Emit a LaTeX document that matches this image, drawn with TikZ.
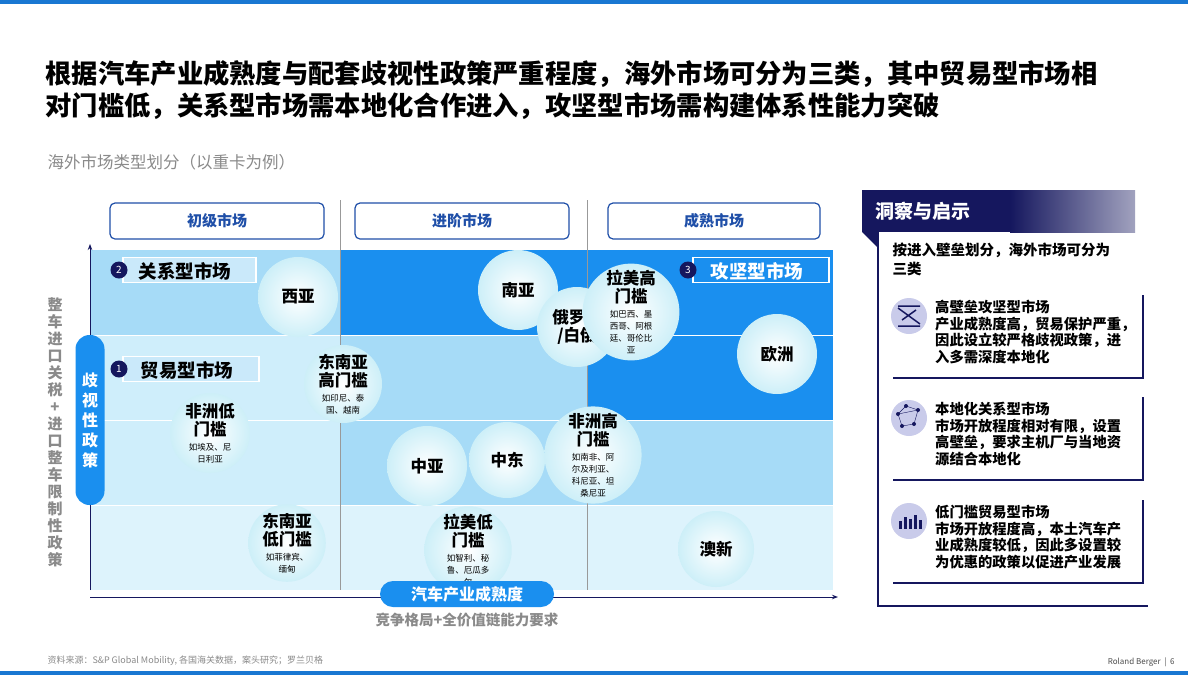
\documentclass[tikz,border=0pt]{standalone}
\usepackage{fontspec}
\setmainfont{Noto Sans CJK SC}
\usetikzlibrary{shapes.geometric,arrows.meta}
\newcommand\smallf{\mdseries\fontsize{8.5}{9}\selectfont}
\newcommand\nl{\\[-6pt]}
\definecolor{cbright}{HTML}{1A8FEF}
\definecolor{clight}{HTML}{A6DBF7}
\definecolor{cpale}{HTML}{CFEEFB}
\definecolor{cvpale}{HTML}{DDF3FC}
\definecolor{navy}{HTML}{15175E}
\definecolor{hdrblue}{HTML}{1F4FA8}
\definecolor{gtxt}{HTML}{8A8A8A}
\definecolor{lav}{HTML}{C9CBEA}
\definecolor{bubedge}{HTML}{CDEFF8}
\tikzset{
 bub/.style={circle,minimum size=#1,inner sep=0pt,draw=none,inner color=white,outer color=bubedge,align=center,font=\bfseries\fontsize{16.5}{18}\selectfont},
 hdr/.style={draw=hdrblue,line width=1.2pt,rounded corners=5pt,fill=white,text=hdrblue,font=\bfseries\fontsize{15}{16}\selectfont,minimum height=36pt},
 badge/.style={circle,fill=navy,text=white,minimum size=17pt,inner sep=0pt,font=\fontsize{10}{10}\selectfont},
 tbox/.style={draw=white,line width=1.5pt,fill=white!40!clight,anchor=west,font=\bfseries\fontsize{18.5}{19}\selectfont,minimum height=25pt,text depth=0pt,align=left,text width=#1,inner sep=0pt},
}
\begin{document}
\begin{tikzpicture}[x=1pt,y=-1pt]
\useasboundingbox (0,0) rectangle (1188,675);
\fill[white] (0,0) rectangle (1188,675);
\fill[cbright!80!navy] (0,0) rectangle (1188,4);
\fill[cbright!80!navy] (0,671) rectangle (1188,675);
\node[anchor=west,font=\bfseries\fontsize{26.3}{32}\selectfont,align=left] (title) at (42,90) {根据汽车产业成熟度与配套歧视性政策严重程度，海外市场可分为三类，其中贸易型市场相\\对门槛低，关系型市场需本地化合作进入，攻坚型市场需构建体系性能力突破};
\node[anchor=west,text=gtxt,font=\fontsize{16.5}{17}\selectfont] (sub) at (44,162) {海外市场类型划分（以重卡为例）};
% grid
\fill[clight] (90,250) rectangle (340,335);
\fill[cbright] (340,250) rectangle (833,335);
\fill[cpale] (90,335) rectangle (340,505);
\fill[clight] (340,335) rectangle (587,420);
\fill[cbright] (587,335) rectangle (833,420);
\fill[clight] (340,420) rectangle (833,505);
\fill[cvpale] (90,505) rectangle (833,590);
\draw[white,line width=0.8pt] (90,335) -- (833,335) (90,420) -- (833,420) (90,505) -- (833,505);
\draw[gray!80,line width=0.6pt] (340,200) -- (340,590) (587,200) -- (587,590);
% headers
\node[hdr,minimum width=214pt] (h1) at (217,221) {初级市场};
\node[hdr,minimum width=214pt] (h2) at (462,221) {进阶市场};
\node[hdr,minimum width=212pt] (h3) at (714,221) {成熟市场};
% axes
\coordinate (o) at (90,597);
\coordinate (ytop) at (90,244);
\coordinate (xend) at (838,597);
\draw[navy,line width=1pt,-{Stealth[length=6pt]}] (90,590) -- (ytop);
\draw[navy,line width=1pt,-{Stealth[length=6pt]}] (o) -- (xend);
\node[fill=cbright,rounded corners=14pt,minimum width=29pt,minimum height=170pt,text=white,font=\bfseries\fontsize{16}{20}\selectfont,align=center,inner sep=0pt] (ylab) at (90,420) {歧\\视\\性\\政\\策};
\node[text=gtxt,font=\bfseries\itshape\fontsize{15}{17}\selectfont,align=center] (yl2) at (55,432) {整\\车\\进\\口\\关\\税\\+\\进\\口\\整\\车\\限\\制\\性\\政\\策};
% type labels
\node[tbox=133pt] (t2) at (122,270) {\hspace{16pt}关系型市场};
\node[badge] (b2) at (119,270) {2};
\node[tbox=136pt] (t1) at (122,369) {\hspace{18pt}贸易型市场};
\node[badge] (b1) at (119,369) {1};
\node[tbox=136pt,fill=cbright,text=white] (t3) at (692,270) {\hspace{18pt}攻坚型市场};
\node[badge] (b3) at (688,270) {3};
% bubbles
\node[bub=80pt] (xiya) at (298,297) {西亚};
\node[bub=80pt] (nanya) at (518,290) {南亚};
\node[bub=80pt] (eluo) at (577,327) {俄罗斯\\/白俄};
\node[bub=76pt] (lmg) at (631,312) {拉美高\\门槛\\[-3pt]\smallf 如巴西、墨\nl\smallf 西哥、阿根\nl\smallf 廷、哥伦比\nl\smallf 亚};
\node[bub=80pt] (oz) at (777,354) {欧洲};
\node[bub=78pt] (dng) at (343,384) {东南亚\\高门槛\\[-3pt]\smallf 如印尼、泰\nl\smallf 国、越南};
\node[bub=80pt] (fzd) at (210,433) {非洲低\\门槛\\[-3pt]\smallf 如埃及、尼\nl\smallf 日利亚};
\node[bub=80pt] (zy) at (427,466) {中亚};
\node[bub=76pt] (zd) at (507,460) {中东};
\node[bub=76pt] (fzg) at (593,455) {非洲高\\门槛\\[-3pt]\smallf 如南非、阿\nl\smallf 尔及利亚、\nl\smallf 科尼亚、坦\nl\smallf 桑尼亚};
\node[bub=76pt] (dnd) at (287,543) {东南亚\\低门槛\\[-3pt]\smallf 如菲律宾、\nl\smallf 缅甸};
\node[bub=80pt] (lmd) at (468,550) {拉美低\\门槛\\[-3pt]\smallf 如智利、秘\nl\smallf 鲁、厄瓜多\nl\smallf 尔};
\node[bub=76pt] (ax) at (716,549) {澳新};
% x label
\node[fill=cbright,rounded corners=13pt,minimum width=174pt,minimum height=26pt,text=white,font=\bfseries\fontsize{16}{17}\selectfont] (xlab) at (467,594) {汽车产业成熟度};
\node[text=gtxt,font=\bfseries\itshape\fontsize{14.5}{15}\selectfont] (xl2) at (467,620) {竞争格局+全价值链能力要求};
% right panel
\draw[navy,line width=1.2pt] (878,232) -- (878,606) -- (1148,606);
\fill[navy] (862,190) rectangle (1135,232);
\fill[navy] (862,232) -- (878,232) -- (878,248) -- cycle;
\shade[left color=navy,right color=navy!40!white] (1010,190) rectangle (1135,232);
\node[anchor=west,text=white,font=\bfseries\fontsize{19}{20}\selectfont] (ph) at (872,211) {洞察与启示};
\node[anchor=north west,font=\bfseries\fontsize{14.5}{19}\selectfont,align=left] (pi) at (889,239) {按进入壁垒划分，海外市场可分为\\三类};
\foreach \y/\t/\b [count=\i] in {300/高壁垒攻坚型市场/{产业成熟度高，贸易保护严重，\\因此设立较严格歧视政策，进\\入多需深度本地化},402/本地化关系型市场/{市场开放程度相对有限，设置\\高壁垒，要求主机厂与当地资\\源结合本地化},505/低门槛贸易型市场/{市场开放程度高，本土汽车产\\业成熟度较低，因此多设置较\\为优惠的政策以促进产业发展}}{
 \node[circle,fill=lav,minimum size=36pt] (ic\i) at (909,\y+16) {};
 \node[anchor=north west,align=left,inner sep=0pt,font=\bfseries\fontsize{14.3}{16.5}\selectfont] (c\i) at (935,\y+0) {\t\\\b};
 \draw[navy,line width=1.5pt] (1143,\y-5) -- (1143,\y+78) -- (893,\y+78);
}
\draw[navy,line width=1.5pt] (898,308) -- (920,324) (902,320) -- (916,310) (898,306) -- (920,306) (898,326) -- (920,326);
\foreach \p in {(898,414),(906,406),(918,410),(914,424),(902,426)} \fill[navy] \p circle (2pt);
\draw[navy] (898,414) -- (906,406) -- (918,410) -- (914,424) -- (902,426) -- cycle (898,414) -- (918,410);
\foreach \xx/\hh in {899/8,904/12,909/10,914/14,919/9} \fill[navy] (\xx,529) rectangle (\xx+3,529-\hh);
% footer
\node[anchor=west,text=gtxt,font=\fontsize{9}{10}\selectfont] (src) at (44,661) {资料来源：S\&P Global Mobility, 各国海关数据，案头研究；罗兰贝格};
\node[anchor=east,text=black!70,font=\fontsize{8}{10}\selectfont] (rb) at (1178,662) {Roland Berger \ \textbar\ \ 6};
\end{tikzpicture}
\end{document}
